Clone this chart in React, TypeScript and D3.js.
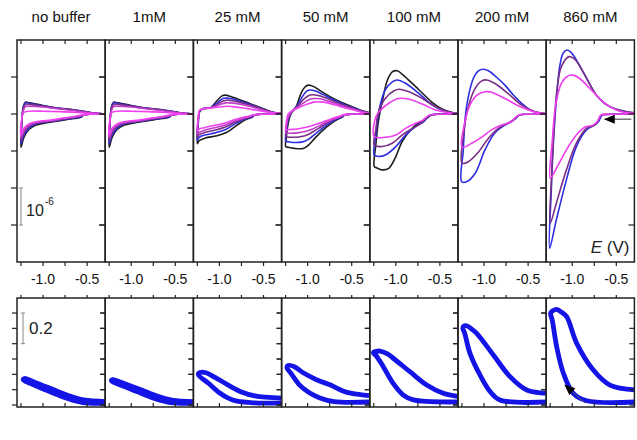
import * as d3 from "d3";

type Pt = [number, number];

// concentration of buffer above each column
const panelLabels = ["no buffer", "1mM", "25 mM", "50 mM", "100 mM", "200 mM", "860 mM"];
const eTicks = [-1.25, -1.0, -0.75, -0.5];
const eLabels = [-1.0, -0.5];
const currentTicks = [1, 0, -1, -2, -3]; // units of 1e-6 A
const ratioTicks = [0, 0.1, 0.2, 0.3, 0.4, 0.5, 0.6];

const colors5 = ["#1e1e1e", "#2c2ce0", "#7a2f86", "#c03cc8", "#f040f0"];
const colors4 = ["#1e1e1e", "#2c2ce0", "#7a2f86", "#ee3cee"];
const colors3 = ["#2c2ce0", "#7a2f86", "#ee3cee"];

// each curve: lower (forward) branch from -0.3 V to the switch, then back along the upper branch
const cvNoBuffer: Pt[][] = [
  [[-0.3, 0], [-0.5, -0.01], [-0.54, -0.03], [-0.57, -0.09], [-0.64, -0.12], [-0.75, -0.16], [-0.94, -0.23], [-1.08, -0.3], [-1.16, -0.42], [-1.215, -0.62], [-1.25, -0.9],
   [-1.24, -0.25], [-1.225, 0.18], [-1.2, 0.32], [-1.15, 0.3], [-1.0, 0.23], [-0.86, 0.17], [-0.64, 0.11], [-0.45, 0.035], [-0.3, 0]],
  [[-0.3, 0], [-0.5, -0.01], [-0.545, -0.03], [-0.58, -0.08], [-0.65, -0.11], [-0.76, -0.15], [-0.94, -0.21], [-1.08, -0.27], [-1.16, -0.38], [-1.215, -0.56], [-1.25, -0.8],
   [-1.24, -0.2], [-1.225, 0.16], [-1.2, 0.3], [-1.15, 0.285], [-1.0, 0.22], [-0.86, 0.165], [-0.64, 0.105], [-0.45, 0.035], [-0.3, 0]],
  [[-0.3, 0], [-0.5, -0.01], [-0.55, -0.03], [-0.59, -0.07], [-0.66, -0.1], [-0.77, -0.14], [-0.94, -0.2], [-1.08, -0.25], [-1.16, -0.34], [-1.215, -0.5], [-1.25, -0.72],
   [-1.24, -0.18], [-1.225, 0.12], [-1.2, 0.26], [-1.15, 0.26], [-1.0, 0.21], [-0.86, 0.16], [-0.64, 0.1], [-0.45, 0.03], [-0.3, 0]],
  [[-0.3, 0], [-0.5, -0.01], [-0.555, -0.03], [-0.6, -0.06], [-0.67, -0.09], [-0.78, -0.13], [-0.94, -0.19], [-1.08, -0.23], [-1.16, -0.3], [-1.215, -0.44], [-1.25, -0.64],
   [-1.24, -0.15], [-1.225, 0.08], [-1.2, 0.2], [-1.15, 0.21], [-1.0, 0.19], [-0.86, 0.15], [-0.64, 0.09], [-0.45, 0.03], [-0.3, 0]],
  [[-0.3, 0], [-0.5, -0.01], [-0.56, -0.03], [-0.61, -0.05], [-0.68, -0.08], [-0.8, -0.12], [-0.94, -0.17], [-1.08, -0.21], [-1.16, -0.27], [-1.215, -0.38], [-1.25, -0.56],
   [-1.24, -0.12], [-1.225, 0.03], [-1.19, 0.07], [-1.0, 0.075], [-0.8, 0.065], [-0.6, 0.04], [-0.45, 0.015], [-0.3, 0]],
];

const cv1mM: Pt[][] = cvNoBuffer;

const cv25mM: Pt[][] = [
  [[-0.3, 0], [-0.56, -0.01], [-0.6, -0.03], [-0.63, -0.09], [-0.71, -0.16], [-0.8, -0.3], [-0.92, -0.5], [-1.03, -0.59], [-1.16, -0.65], [-1.23, -0.72], [-1.25, -0.8],
   [-1.24, -0.25], [-1.225, 0.06], [-1.19, 0.14], [-1.1, 0.17], [-1.03, 0.35], [-0.97, 0.49], [-0.93, 0.51], [-0.88, 0.48], [-0.78, 0.39], [-0.65, 0.28], [-0.5, 0.14], [-0.4, 0.05], [-0.3, 0.01]],
  [[-0.3, 0], [-0.56, -0.01], [-0.605, -0.03], [-0.64, -0.09], [-0.72, -0.14], [-0.82, -0.26], [-0.93, -0.42], [-1.05, -0.51], [-1.17, -0.57], [-1.23, -0.63], [-1.25, -0.71],
   [-1.24, -0.2], [-1.225, 0.07], [-1.19, 0.14], [-1.1, 0.17], [-1.02, 0.31], [-0.96, 0.42], [-0.92, 0.43], [-0.86, 0.41], [-0.76, 0.34], [-0.63, 0.24], [-0.5, 0.13], [-0.4, 0.05], [-0.3, 0.01]],
  [[-0.3, 0], [-0.56, -0.01], [-0.61, -0.03], [-0.65, -0.08], [-0.73, -0.13], [-0.83, -0.23], [-0.94, -0.36], [-1.06, -0.44], [-1.17, -0.5], [-1.23, -0.56], [-1.25, -0.63],
   [-1.24, -0.18], [-1.225, 0.08], [-1.19, 0.14], [-1.1, 0.17], [-1.01, 0.28], [-0.95, 0.36], [-0.91, 0.37], [-0.85, 0.36], [-0.75, 0.3], [-0.62, 0.22], [-0.5, 0.12], [-0.4, 0.04], [-0.3, 0.01]],
  [[-0.3, 0], [-0.56, -0.01], [-0.615, -0.03], [-0.66, -0.07], [-0.74, -0.12], [-0.84, -0.2], [-0.95, -0.31], [-1.07, -0.38], [-1.17, -0.44], [-1.23, -0.5], [-1.25, -0.56],
   [-1.24, -0.15], [-1.225, 0.09], [-1.19, 0.14], [-1.1, 0.17], [-1.0, 0.25], [-0.93, 0.3], [-0.88, 0.3], [-0.8, 0.28], [-0.7, 0.23], [-0.6, 0.17], [-0.5, 0.1], [-0.4, 0.04], [-0.3, 0.01]],
  [[-0.3, 0], [-0.56, -0.01], [-0.62, -0.03], [-0.67, -0.06], [-0.75, -0.1], [-0.85, -0.17], [-0.96, -0.26], [-1.08, -0.32], [-1.17, -0.37], [-1.23, -0.41], [-1.25, -0.45],
   [-1.24, -0.1], [-1.225, 0.1], [-1.19, 0.14], [-1.1, 0.16], [-1.0, 0.19], [-0.92, 0.21], [-0.85, 0.2], [-0.75, 0.17], [-0.65, 0.13], [-0.5, 0.07], [-0.4, 0.03], [-0.3, 0.01]],
];

const cv50mM: Pt[][] = [
  [[-0.3, 0], [-0.54, -0.01], [-0.58, -0.03], [-0.61, -0.09], [-0.67, -0.16], [-0.746, -0.28], [-0.822, -0.43], [-0.92, -0.66], [-0.99, -0.84], [-1.05, -0.93], [-1.15, -0.93], [-1.22, -0.9], [-1.248, -0.88],
   [-1.24, -0.6], [-1.22, -0.25], [-1.19, 0.0], [-1.13, 0.2], [-1.075, 0.56], [-1.03, 0.73], [-0.99, 0.78], [-0.93, 0.74], [-0.85, 0.62], [-0.746, 0.47], [-0.62, 0.32], [-0.52, 0.22], [-0.37, 0.08], [-0.3, 0.03]],
  [[-0.3, 0], [-0.54, -0.01], [-0.585, -0.03], [-0.62, -0.09], [-0.68, -0.15], [-0.76, -0.26], [-0.84, -0.4], [-0.93, -0.57], [-1.0, -0.7], [-1.07, -0.76], [-1.16, -0.77], [-1.22, -0.75], [-1.248, -0.73],
   [-1.24, -0.45], [-1.22, -0.15], [-1.18, 0.05], [-1.12, 0.22], [-1.06, 0.47], [-1.01, 0.62], [-0.97, 0.65], [-0.91, 0.62], [-0.83, 0.53], [-0.72, 0.4], [-0.6, 0.27], [-0.5, 0.18], [-0.37, 0.07], [-0.3, 0.03]],
  [[-0.3, 0], [-0.54, -0.01], [-0.59, -0.03], [-0.63, -0.08], [-0.69, -0.14], [-0.77, -0.23], [-0.85, -0.35], [-0.94, -0.48], [-1.02, -0.58], [-1.1, -0.62], [-1.18, -0.63], [-1.23, -0.62], [-1.248, -0.61],
   [-1.24, -0.38], [-1.22, -0.12], [-1.18, 0.06], [-1.11, 0.22], [-1.04, 0.41], [-0.98, 0.51], [-0.94, 0.52], [-0.88, 0.5], [-0.8, 0.44], [-0.7, 0.34], [-0.58, 0.23], [-0.48, 0.15], [-0.37, 0.06], [-0.3, 0.03]],
  [[-0.3, 0], [-0.54, -0.01], [-0.595, -0.03], [-0.64, -0.08], [-0.7, -0.13], [-0.78, -0.21], [-0.86, -0.31], [-0.95, -0.41], [-1.04, -0.48], [-1.12, -0.51], [-1.19, -0.52], [-1.23, -0.52], [-1.248, -0.51],
   [-1.24, -0.3], [-1.22, -0.08], [-1.18, 0.07], [-1.1, 0.2], [-1.02, 0.34], [-0.96, 0.41], [-0.92, 0.42], [-0.86, 0.41], [-0.78, 0.36], [-0.68, 0.28], [-0.57, 0.19], [-0.47, 0.12], [-0.37, 0.05], [-0.3, 0.02]],
  [[-0.3, 0], [-0.54, -0.01], [-0.6, -0.03], [-0.65, -0.07], [-0.72, -0.12], [-0.8, -0.19], [-0.88, -0.26], [-0.97, -0.33], [-1.06, -0.38], [-1.14, -0.41], [-1.2, -0.42], [-1.235, -0.43], [-1.248, -0.43],
   [-1.24, -0.2], [-1.22, 0.0], [-1.18, 0.08], [-1.1, 0.17], [-1.0, 0.27], [-0.93, 0.32], [-0.88, 0.33], [-0.82, 0.32], [-0.74, 0.28], [-0.65, 0.22], [-0.55, 0.15], [-0.45, 0.09], [-0.37, 0.04], [-0.3, 0.02]],
];

const cv100mM: Pt[][] = [
  [[-0.3, 0], [-0.56, -0.01], [-0.6, -0.03], [-0.645, -0.11], [-0.7, -0.19], [-0.775, -0.3], [-0.85, -0.48], [-0.93, -0.75], [-1.0, -1.15], [-1.08, -1.47], [-1.155, -1.51], [-1.22, -1.45], [-1.244, -1.42],
   [-1.225, -0.79], [-1.195, -0.16], [-1.15, 0.38], [-1.095, 0.92], [-1.04, 1.14], [-0.985, 1.17], [-0.93, 1.08], [-0.86, 0.93], [-0.775, 0.74], [-0.68, 0.52], [-0.585, 0.31], [-0.47, 0.13], [-0.36, 0.04], [-0.3, 0.01]],
  [[-0.3, 0], [-0.56, -0.01], [-0.605, -0.03], [-0.65, -0.11], [-0.68, -0.2], [-0.775, -0.34], [-0.89, -0.57], [-1.0, -0.88], [-1.12, -1.11], [-1.19, -1.15], [-1.244, -1.11],
   [-1.225, -0.52], [-1.19, 0.11], [-1.12, 0.65], [-1.04, 0.87], [-0.985, 0.92], [-0.89, 0.83], [-0.74, 0.56], [-0.585, 0.24], [-0.47, 0.1], [-0.36, 0.03], [-0.3, 0.01]],
  [[-0.3, 0], [-0.56, -0.01], [-0.61, -0.03], [-0.655, -0.11], [-0.7, -0.23], [-0.81, -0.39], [-0.93, -0.57], [-1.04, -0.79], [-1.155, -0.88], [-1.244, -0.84],
   [-1.225, -0.4], [-1.2, 0.02], [-1.12, 0.42], [-1.02, 0.63], [-0.96, 0.67], [-0.85, 0.6], [-0.7, 0.42], [-0.55, 0.2], [-0.42, 0.07], [-0.3, 0.01]],
  [[-0.3, 0], [-0.56, -0.01], [-0.615, -0.03], [-0.66, -0.1], [-0.7, -0.18], [-0.775, -0.25], [-0.89, -0.39], [-1.0, -0.57], [-1.12, -0.63], [-1.244, -0.61],
   [-1.225, -0.07], [-1.17, 0.11], [-1.08, 0.29], [-0.97, 0.42], [-0.85, 0.4], [-0.7, 0.27], [-0.55, 0.11], [-0.42, 0.04], [-0.3, 0.01]],
];

const cv200mM: Pt[][] = [
  [[-0.3, 0], [-0.56, -0.01], [-0.6, -0.03], [-0.64, -0.12], [-0.69, -0.21], [-0.763, -0.3], [-0.88, -0.52], [-0.989, -0.97], [-1.1, -1.6], [-1.197, -1.83], [-1.253, -1.83],
   [-1.235, -0.97], [-1.212, -0.07], [-1.178, 0.47], [-1.121, 0.96], [-1.06, 1.17], [-1.008, 1.21], [-0.951, 1.17], [-0.86, 1.0], [-0.763, 0.78], [-0.67, 0.52], [-0.573, 0.29], [-0.46, 0.09], [-0.33, 0.02], [-0.3, 0.01]],
  [[-0.3, 0], [-0.56, -0.01], [-0.605, -0.03], [-0.645, -0.12], [-0.73, -0.25], [-0.838, -0.39], [-0.951, -0.66], [-1.06, -1.02], [-1.178, -1.29], [-1.249, -1.33],
   [-1.23, -0.52], [-1.178, 0.2], [-1.1, 0.69], [-1.03, 0.89], [-0.97, 0.92], [-0.88, 0.83], [-0.73, 0.56], [-0.573, 0.24], [-0.42, 0.06], [-0.3, 0.01]],
  [[-0.3, 0], [-0.56, -0.01], [-0.61, -0.03], [-0.65, -0.11], [-0.69, -0.21], [-0.8, -0.3], [-0.915, -0.43], [-1.03, -0.63], [-1.14, -0.79], [-1.249, -0.9],
   [-1.22, -0.25], [-1.16, 0.24], [-1.08, 0.51], [-0.99, 0.6], [-0.915, 0.59], [-0.763, 0.42], [-0.573, 0.18], [-0.42, 0.05], [-0.3, 0.01]],
];

const cv860mM: Pt[][] = [
  [[-0.3, 0], [-0.6, -0.01], [-0.66, -0.03], [-0.7, -0.2], [-0.726, -0.27], [-0.764, -0.32], [-0.839, -0.43], [-0.953, -0.88], [-1.066, -1.78], [-1.18, -2.86], [-1.256, -3.63],
   [-1.237, -2.05], [-1.218, -0.97], [-1.18, 0.38], [-1.142, 1.28], [-1.104, 1.64], [-1.059, 1.73], [-1.01, 1.66], [-0.953, 1.46], [-0.877, 1.14], [-0.8, 0.8], [-0.726, 0.51], [-0.65, 0.32], [-0.574, 0.2], [-0.423, 0.08], [-0.3, 0.03]],
  [[-0.3, 0], [-0.6, -0.01], [-0.67, -0.03], [-0.71, -0.2], [-0.745, -0.3], [-0.839, -0.39], [-0.953, -0.79], [-1.066, -1.51], [-1.18, -2.41], [-1.249, -2.95],
   [-1.232, -1.6], [-1.21, -0.52], [-1.173, 0.65], [-1.123, 1.28], [-1.036, 1.55], [-0.972, 1.48], [-0.877, 1.14], [-0.8, 0.8], [-0.726, 0.51], [-0.65, 0.32], [-0.574, 0.2], [-0.423, 0.08], [-0.3, 0.03]],
  [[-0.3, 0], [-0.6, -0.01], [-0.675, -0.03], [-0.715, -0.2], [-0.764, -0.3], [-0.858, -0.36], [-0.953, -0.57], [-1.066, -0.97], [-1.16, -1.38], [-1.249, -1.74],
   [-1.225, -0.7], [-1.19, 0.2], [-1.123, 0.83], [-1.047, 1.03], [-0.991, 1.05], [-0.915, 0.96], [-0.764, 0.6], [-0.65, 0.33], [-0.5, 0.11], [-0.4, 0.04], [-0.3, 0.02]],
];

// bottom row loops: lower branch (right -> left) then upper branch (left -> right)
const loopNoBuffer: Pt[] = [[-0.28, 0.012], [-0.55, 0.016], [-0.73, 0.044], [-0.92, 0.087], [-1.1, 0.13], [-1.19, 0.152], [-1.225, 0.165],
  [-1.21, 0.173], [-1.11, 0.152], [-0.92, 0.109], [-0.73, 0.065], [-0.54, 0.033], [-0.28, 0.022]];
const loop1mM: Pt[] = [[-0.28, 0.012], [-0.55, 0.016], [-0.73, 0.042], [-0.92, 0.084], [-1.1, 0.126], [-1.19, 0.146], [-1.225, 0.158],
  [-1.21, 0.166], [-1.11, 0.147], [-0.92, 0.106], [-0.73, 0.063], [-0.54, 0.032], [-0.28, 0.022]];
const loop25mM: Pt[] = [[-0.28, 0.012], [-0.6, 0.014], [-0.8, 0.025], [-0.9, 0.045], [-1.0, 0.08], [-1.12, 0.14], [-1.24, 0.2],
  [-1.22, 0.213], [-1.15, 0.21], [-1.05, 0.18], [-0.9, 0.13], [-0.75, 0.085], [-0.6, 0.06], [-0.28, 0.045]];
const loop50mM: Pt[] = [[-0.28, 0.02], [-0.7, 0.022], [-0.86, 0.046], [-0.98, 0.08], [-1.09, 0.13], [-1.18, 0.2], [-1.235, 0.245],
  [-1.22, 0.258], [-1.15, 0.25], [-1.05, 0.21], [-0.9, 0.165], [-0.74, 0.13], [-0.6, 0.092], [-0.5, 0.076], [-0.28, 0.06]];
const loop100mM: Pt[] = [[-0.28, 0.02], [-0.8, 0.033], [-0.915, 0.065], [-1.03, 0.141], [-1.142, 0.25], [-1.22, 0.32], [-1.255, 0.341],
  [-1.22, 0.35], [-1.18, 0.352], [-1.1, 0.335], [-1.029, 0.305], [-0.84, 0.217], [-0.65, 0.13], [-0.462, 0.076], [-0.28, 0.054]];
const loop200mM: Pt[] = [[-0.28, 0.02], [-0.82, 0.033], [-0.93, 0.087], [-1.046, 0.196], [-1.159, 0.337], [-1.22, 0.47], [-1.24, 0.5],
  [-1.23, 0.515], [-1.197, 0.517], [-1.14, 0.495], [-1.083, 0.467], [-0.894, 0.326], [-0.705, 0.185], [-0.516, 0.098], [-0.28, 0.076]];
const loop860mM: Pt[] = [[-0.28, 0.02], [-0.836, 0.028], [-0.988, 0.076], [-1.1, 0.207], [-1.176, 0.38], [-1.225, 0.55], [-1.245, 0.6],
  [-1.22, 0.615], [-1.176, 0.624], [-1.12, 0.605], [-1.063, 0.576], [-0.949, 0.402], [-0.761, 0.228], [-0.572, 0.13], [-0.28, 0.098]];

const cvPanels = [cvNoBuffer, cv1mM, cv25mM, cv50mM, cv100mM, cv200mM, cv860mM];
const cvColors = [colors5, colors5, colors5, colors5, colors4, colors3, colors3];
const loops = [loopNoBuffer, loop1mM, loop25mM, loop50mM, loop100mM, loop200mM, loop860mM];

const font = "'Liberation Sans', Arial, sans-serif";

export default function App() {
  const left = 17;
  const panelW = 88.2;
  const top = { y0: 40, y1: 262 };
  const bot = { y0: 298, y1: 407 };

  const x = d3.scaleLinear().domain([-1.295, -0.295]).range([0, panelW]);
  const yCv = d3.scaleLinear().domain([-4, 2]).range([top.y1, top.y0]);
  const yLoop = d3.scaleLinear().domain([-0.013, 0.698]).range([bot.y1, bot.y0]);

  const cvLine = d3.line<Pt>().x((d) => x(d[0])).y((d) => yCv(d[1])).curve(d3.curveCatmullRom.alpha(0.5));
  const loopLine = d3.line<Pt>().x((d) => x(d[0])).y((d) => yLoop(d[1])).curve(d3.curveCatmullRom.alpha(0.5));

  const frame = "#222";

  return (
    <svg width={637} height={440} style={{ position: "absolute", left: 0, top: 0, background: "#fff" }} fontFamily={font}>
      <defs>
        <clipPath id="clip-top">
          <rect x={0} y={top.y0} width={panelW} height={top.y1 - top.y0} />
        </clipPath>
        <clipPath id="clip-bot">
          <rect x={0} y={bot.y0} width={panelW} height={bot.y1 - bot.y0} />
        </clipPath>
        <marker id="head" viewBox="0 0 12 10" refX={11} refY={5} markerUnits="userSpaceOnUse" markerWidth={12} markerHeight={9} orient="auto">
          <path d="M0,0 L12,5 L0,10 z" fill="#000" />
        </marker>
      </defs>

      {panelLabels.map((label, p) => (
        <g key={label} transform={`translate(${left + p * panelW},0)`}>
          <text x={panelW / 2} y={22} textAnchor="middle" fontSize={15} fill="#111">{label}</text>

          {/* top row: cyclic voltammograms */}
          <g clipPath="url(#clip-top)">
            {cvPanels[p].map((c, k) => (
              <path key={k} d={cvLine(c) || ""} fill="none" stroke={cvColors[p][k]} strokeWidth={1.6} />
            ))}
          </g>
          <rect x={0} y={top.y0} width={panelW} height={top.y1 - top.y0} fill="none" stroke={frame} strokeWidth={1.5} />
          {eTicks.map((t) => (
            <g key={t} stroke={frame} strokeWidth={1.2}>
              <line x1={x(t)} x2={x(t)} y1={top.y0} y2={top.y0 + 4} />
              <line x1={x(t)} x2={x(t)} y1={top.y1} y2={top.y1 + 4} />
            </g>
          ))}
          {currentTicks.map((t) => (
            <g key={t} stroke={frame} strokeWidth={1.2}>
              <line x1={-6} x2={0} y1={yCv(t)} y2={yCv(t)} />
              <line x1={panelW - 6} x2={panelW} y1={yCv(t)} y2={yCv(t)} />
            </g>
          ))}
          {eLabels.map((t) => (
            <text key={t} x={x(t)} y={284} textAnchor="middle" fontSize={14} fill="#111">{t.toFixed(1)}</text>
          ))}

          {/* bottom row loops */}
          <g clipPath="url(#clip-bot)">
            <path d={loopLine(loops[p]) || ""} fill="none" stroke="#1414e6" strokeWidth={4.8} strokeLinejoin="round" strokeLinecap="round" />
          </g>
          <rect x={0} y={bot.y0} width={panelW} height={bot.y1 - bot.y0} fill="none" stroke={frame} strokeWidth={1.5} />
          {eTicks.map((t) => (
            <g key={t} stroke={frame} strokeWidth={1.2}>
              <line x1={x(t)} x2={x(t)} y1={bot.y0} y2={bot.y0 - 3} />
              <line x1={x(t)} x2={x(t)} y1={bot.y1} y2={bot.y1 - 4} />
            </g>
          ))}
          {ratioTicks.map((t) => (
            <g key={t} stroke={frame} strokeWidth={1.2}>
              <line x1={-5} x2={0} y1={yLoop(t)} y2={yLoop(t)} />
              <line x1={panelW - 5} x2={panelW} y1={yLoop(t)} y2={yLoop(t)} />
            </g>
          ))}
        </g>
      ))}

      {/* scale bar 10^-6 */}
      <g stroke="#888" strokeWidth={1}>
        <line x1={21} x2={21} y1={yCv(-2)} y2={yCv(-3)} />
        <line x1={19} x2={23} y1={yCv(-2)} y2={yCv(-2)} />
        <line x1={19} x2={23} y1={yCv(-3)} y2={yCv(-3)} />
      </g>
      <text x={26} y={216} fontSize={16} fill="#222">10</text>
      <text x={45} y={205} fontSize={10} fill="#222">-6</text>

      {/* scale bar 0.2 */}
      <g stroke="#888" strokeWidth={1}>
        <line x1={23} x2={23} y1={yLoop(0.6)} y2={yLoop(0.4)} />
        <line x1={21} x2={25} y1={yLoop(0.6)} y2={yLoop(0.6)} />
        <line x1={21} x2={25} y1={yLoop(0.4)} y2={yLoop(0.4)} />
      </g>
      <text x={29} y={334} fontSize={17} fill="#222">0.2</text>

      {/* last column annotations */}
      <g transform={`translate(${left + 6 * panelW},0)`}>
        <line x1={x(-0.33)} x2={x(-0.63)} y1={yCv(-0.14)} y2={yCv(-0.14)} stroke="#333" strokeWidth={1} markerEnd="url(#head)" />
        <text x={panelW - 5} y={253} textAnchor="end" fontSize={17} fill="#222">
          <tspan fontStyle="italic">E</tspan> (V)
        </text>
        <line x1={x(-0.855)} x2={x(-1.082)} y1={yLoop(0.013)} y2={yLoop(0.13)} stroke="#555" strokeWidth={1} markerEnd="url(#head)" />
      </g>
    </svg>
  );
}
